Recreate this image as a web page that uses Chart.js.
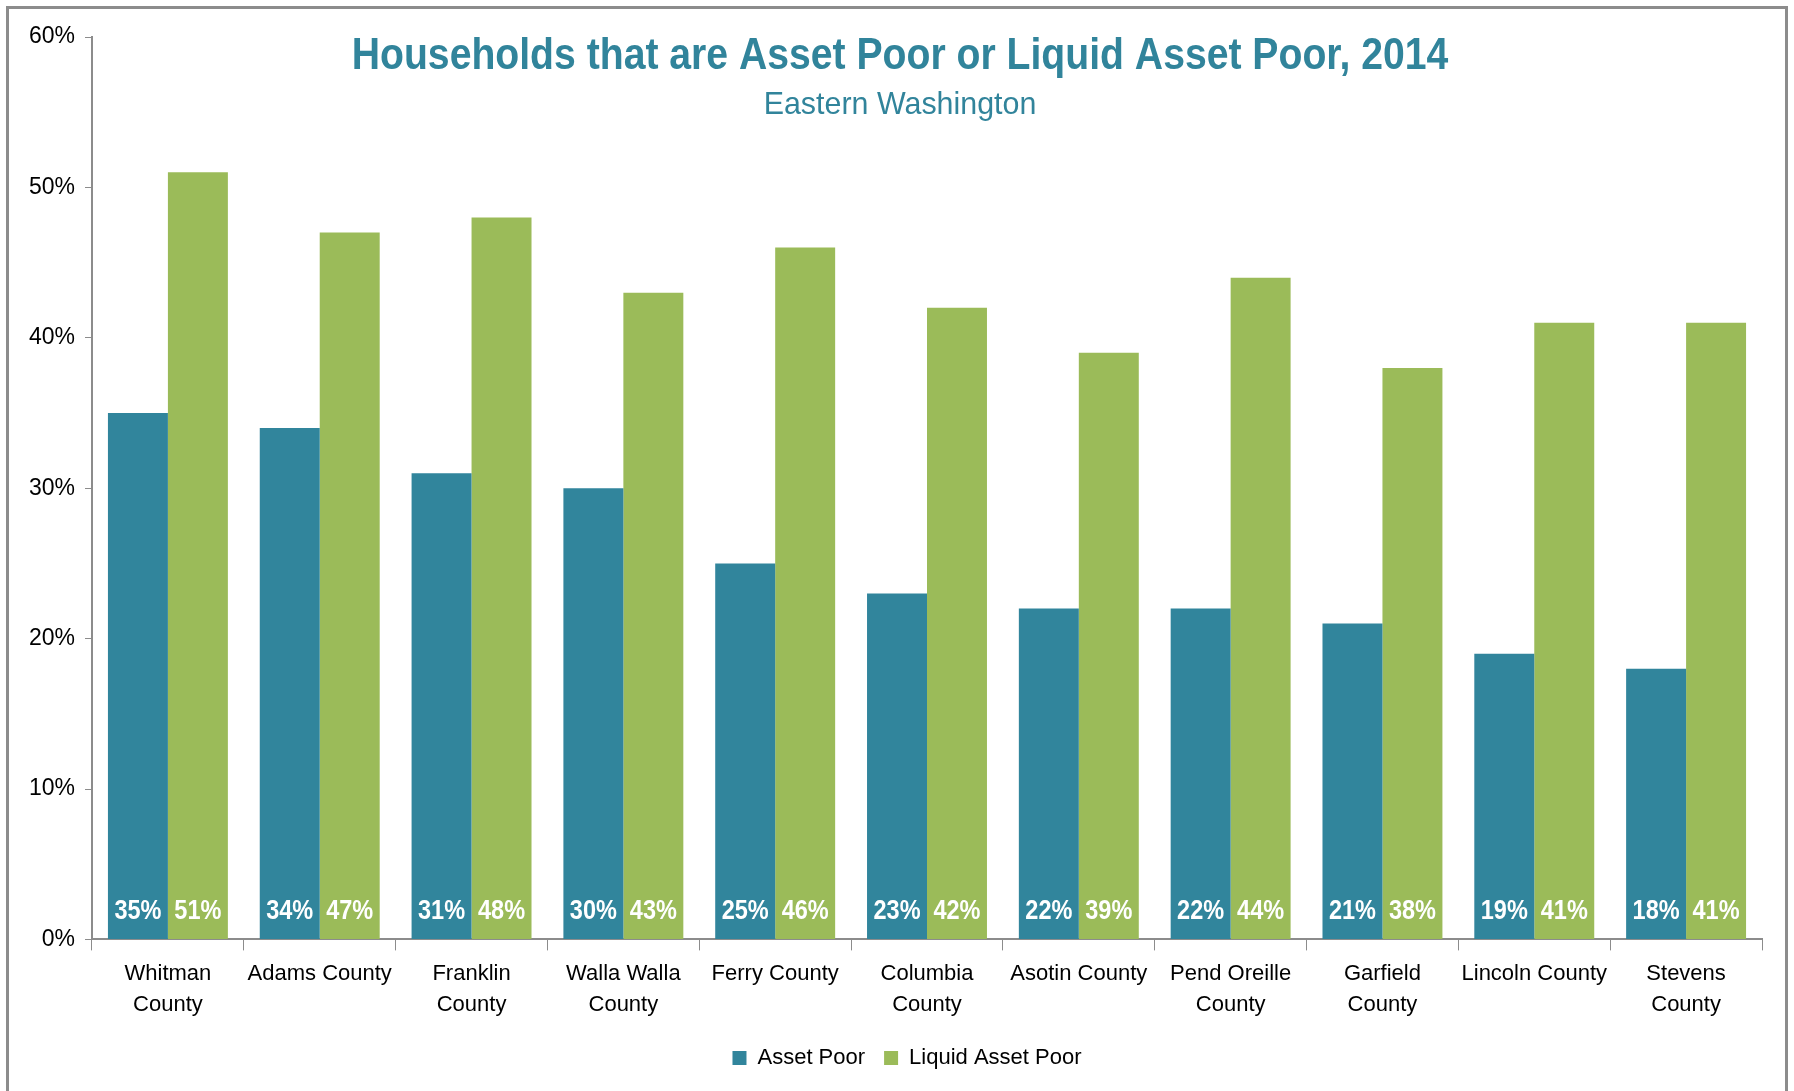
<!DOCTYPE html>
<html>
<head>
<meta charset="utf-8">
<title>Households that are Asset Poor or Liquid Asset Poor, 2014</title>
<script src="https://cdn.jsdelivr.net/npm/chart.js@4.4.1/dist/chart.umd.min.js"></script>
<style>
  html, body { margin: 0; padding: 0; background: #fff; overflow: hidden; }
  #wrap { position: relative; width: 1794px; height: 1091px; }
  #frame {
    position: absolute; left: 6px; top: 6px; width: 1782px; height: 1100px;
    border: 3px solid #8c8c8c; box-sizing: border-box; pointer-events: none;
  }
  canvas { display: block; }
</style>
</head>
<body>
<div id="wrap">
  <canvas id="chart" width="1794" height="1091"></canvas>
  <div id="frame"></div>
</div>
<script>
// ── Datos ──────────────────────────────────────────────────────────────────
const counties = [
  ['Whitman', 'County'], 'Adams County', ['Franklin', 'County'], ['Walla Walla', 'County'],
  'Ferry County', ['Columbia', 'County'], 'Asotin County', ['Pend Oreille', 'County'],
  ['Garfield', 'County'], 'Lincoln County', ['Stevens', 'County']
];
const assetPoor       = [35, 34, 31, 30, 25, 23, 22, 22, 21, 19, 18];
const liquidAssetPoor = [51, 47, 48, 43, 46, 42, 39, 44, 38, 41, 41];
const seriesNames = ['Asset Poor', 'Liquid Asset Poor'];
const yTicks = [0, 10, 20, 30, 40, 50, 60];

const TEAL  = '#31859C';
const GREEN = '#9BBB59';
const AXIS  = '#8c8c8c';
const FONT  = "'Liberation Sans Narrow', 'Arial Narrow', 'Liberation Sans', Arial, sans-serif";

// texto "estrecho": no hay Arial Narrow instalada, se comprime en horizontal
function drawNarrow(ctx, text, x, y, font, squeeze) {
  ctx.save();
  ctx.font = font;
  ctx.translate(x, y);
  ctx.scale(squeeze, 1);
  ctx.fillText(text, 0, 0);
  ctx.restore();
}

// ── Título (dibujado dentro del área del gráfico) ─────────────────────────
const titlePlugin = {
  id: 'titleInside',
  afterDraw(chart) {
    const { ctx } = chart;
    ctx.save();
    ctx.fillStyle = '#31849B';
    ctx.textAlign = 'center';
    ctx.textBaseline = 'middle';
    drawNarrow(ctx, 'Households that are Asset Poor or Liquid Asset Poor, 2014', 900, 57, `bold 45px ${FONT}`, 0.87);
    drawNarrow(ctx, 'Eastern Washington', 900, 105, `32px ${FONT}`, 0.95);
    ctx.restore();
  }
};

// ── Etiquetas de valor al pie de cada barra ───────────────────────────────
const barLabels = {
  id: 'barLabels',
  afterDatasetsDraw(chart) {
    const { ctx } = chart;
    const base = chart.scales.y.getPixelForValue(0);
    ctx.save();
    ctx.fillStyle = '#fff';
    ctx.textAlign = 'center';
    ctx.textBaseline = 'middle';
    chart.data.datasets.forEach((ds, i) => {
      chart.getDatasetMeta(i).data.forEach((bar, j) => {
        drawNarrow(ctx, ds.data[j] + '%', bar.x, base - 28, `bold 28px ${FONT}`, 0.84);
      });
    });
    ctx.restore();
  }
};

// la leyenda va algo a la derecha del centro, como en el original
const legendShift = {
  id: 'legendShift',
  afterLayout(chart) {
    chart.legend.left += 22;
    chart.legend.right += 22;
  }
};

// ── Gráfica ────────────────────────────────────────────────────────────────
new Chart(document.getElementById('chart').getContext('2d'), {
  type: 'bar',
  data: {
    labels: counties,
    datasets: [
      { label: seriesNames[0], data: assetPoor,       backgroundColor: TEAL },
      { label: seriesNames[1], data: liquidAssetPoor, backgroundColor: GREEN }
    ]
  },
  options: {
    responsive: false,
    animation: false,
    events: [],
    datasets: { bar: { categoryPercentage: 0.79, barPercentage: 1 } },
    layout: { padding: { left: 8, right: 32, top: 37, bottom: 12 } },
    scales: {
      x: {
        grid: { drawOnChartArea: false, color: AXIS, tickLength: 11, offset: true },
        border: { color: AXIS, width: 2 },
        ticks: { color: '#000', font: { family: FONT, size: 22, lineHeight: 1.4 }, padding: 8, maxRotation: 0, autoSkip: false }
      },
      y: {
        min: 0, max: 60,
        afterBuildTicks: s => { s.ticks = yTicks.map(v => ({ value: v })); },
        afterFit: s => { s.width = 84; },
        grid: { drawOnChartArea: false, color: AXIS, tickLength: 7 },
        border: { color: AXIS, width: 2 },
        ticks: { color: '#000', font: { family: FONT, size: 23 }, padding: 10, callback: v => v + '%' }
      }
    },
    plugins: {
      legend: {
        position: 'bottom',
        labels: { color: '#000', font: { family: FONT, size: 22 }, boxWidth: 14, boxHeight: 14, padding: 19 }
      },
      tooltip: { enabled: false }
    }
  },
  plugins: [titlePlugin, barLabels, legendShift]
});
</script>
</body>
</html>
